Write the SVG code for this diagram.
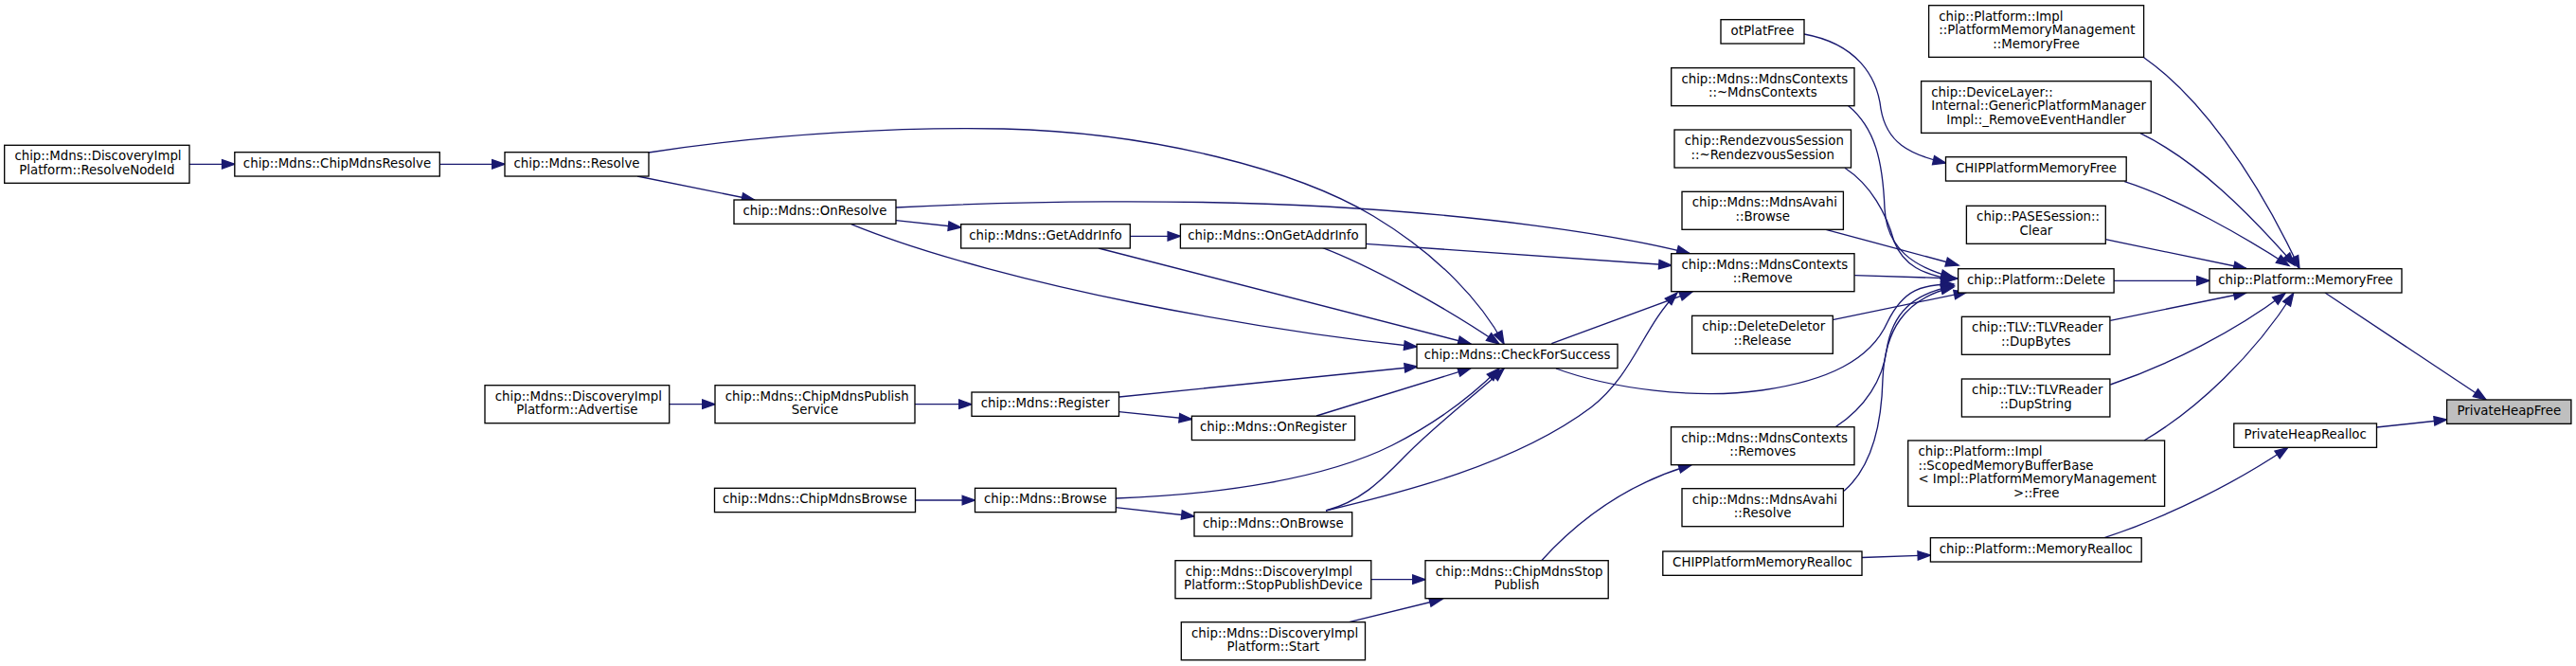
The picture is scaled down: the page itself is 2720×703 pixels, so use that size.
<svg xmlns="http://www.w3.org/2000/svg" width="2720" height="703" viewBox="0 0 2720 703">
<style>
.node rect{fill:#ffffff;stroke:#000000;stroke-width:1.33}
.node.target rect{fill:#bfbfbf}
text{font-family:"DejaVu Sans","Liberation Sans",sans-serif;font-size:13.33px;fill:#000000}
.l{text-anchor:start}
.c{text-anchor:middle}
.e{fill:none;stroke:#191970;stroke-width:1.33;marker-end:url(#ah)}
</style>
<defs>
<marker id="ah" markerUnits="userSpaceOnUse" markerWidth="16" markerHeight="12" refX="13.3" refY="0" orient="auto" overflow="visible">
<path d="M0,-4.7 L13.3,0 L0,4.7 Z" fill="#191970" stroke="#191970" stroke-width="1.33"/>
</marker>
</defs>
<rect x="0" y="0" width="2720" height="703" fill="#ffffff"/>
<g id="edges">
<path class="e" d="M200,173.3 L247.8,173.3"/>
<path class="e" d="M464.3,173.3 L533,173.3"/>
<path class="e" d="M673,186 L796.7,211"/>
<path class="e" d="M685,161 C820,140 960,134 1060,136 C1220,140 1370,180 1450,228 C1520,270 1565,320 1588,363"/>
<path class="e" d="M946,232.7 L1014.7,240"/>
<path class="e" d="M946,219 C1080,212 1250,210 1400,218 C1560,227 1700,246 1784,267.5"/>
<path class="e" d="M898.7,236.7 C980,270 1100,300 1200,320 C1320,344 1420,358 1496,366"/>
<path class="e" d="M1193.3,249.3 L1246.4,249.3"/>
<path class="e" d="M1160,262 L1553,363"/>
<path class="e" d="M1441.7,257.3 L1765,280"/>
<path class="e" d="M1396.7,261.7 C1440,278 1520,320 1583,363"/>
<path class="e" d="M706.7,426.7 L755,426.7"/>
<path class="e" d="M966,426.7 L1026,426.7"/>
<path class="e" d="M1181.5,434.7 L1258.5,442.5"/>
<path class="e" d="M1181.7,419 L1496.5,387"/>
<path class="e" d="M1390,439 L1553,388.7"/>
<path class="e" d="M966.5,528 L1029.5,528"/>
<path class="e" d="M1178,535.7 L1261,545"/>
<path class="e" d="M1178.3,526 C1290,522 1400,505 1470,470 C1525,442 1560,412 1583,389"/>
<path class="e" d="M1400,539 C1440,528 1460,505 1485,480 C1520,445 1560,415 1588,389"/>
<path class="e" d="M1400,539 C1480,520 1600,490 1680,430 C1725,395 1735,345 1771,309"/>
<path class="e" d="M1638.3,362.7 L1787,308"/>
<path class="e" d="M1643,389 C1700,410 1790,422 1860,412 C1930,402 1975,380 1993,340 C2010,305 2030,300 2063,300"/>
<path class="e" d="M1447.8,611.7 L1505,611.7"/>
<path class="e" d="M1424.5,656.7 L1522.8,632.5"/>
<path class="e" d="M1627.7,591.7 C1670,545 1720,510 1786,490.7"/>
<path class="e" d="M1905,36 C1960,46 1982,80 1986,115 C1992,150 2015,163 2054.5,172"/>
<path class="e" d="M1951.7,111.7 C1980,135 1988,170 1990,220 C1992,262 2020,282 2063,293"/>
<path class="e" d="M1948,177.3 C1975,195 1992,225 2000,255 C2010,280 2030,290 2063,295"/>
<path class="e" d="M1928,242.3 L2068,280"/>
<path class="e" d="M1958.3,290.7 L2067,294"/>
<path class="e" d="M1935,337.7 L2076.7,308.3"/>
<path class="e" d="M1938,450.7 C1970,430 1988,400 1992,370 C1998,330 2020,310 2063,301.7"/>
<path class="e" d="M1947,518.3 C1980,490 1987,440 1988,400 C1990,350 2010,315 2063,303"/>
<path class="e" d="M1966,588.5 L2038.4,586"/>
<path class="e" d="M2263.7,60.7 C2320,100 2380,180 2428,283.5"/>
<path class="e" d="M2260,140.7 C2320,170 2375,225 2423,280"/>
<path class="e" d="M2243.3,191.7 C2300,210 2370,250 2417,280.5"/>
<path class="e" d="M2223.3,252.7 L2372,283.5"/>
<path class="e" d="M2232,296.3 L2333,296.3"/>
<path class="e" d="M2228.3,338.3 L2372,309"/>
<path class="e" d="M2228.3,406 C2290,385 2360,350 2413,309.5"/>
<path class="e" d="M2264,465 C2320,432 2380,375 2421.7,309.5"/>
<path class="e" d="M2222,567.7 C2290,545 2360,510 2415.6,472.5"/>
<path class="e" d="M2455,309 L2625,422"/>
<path class="e" d="M2509.5,451 L2583.6,443"/>
</g>
<g id="n_resolvenodeid" class="node"><rect x="4.7" y="153.3" width="195.3" height="40"/><text class="l" x="15.4" y="169.3">chip::Mdns::DiscoveryImpl</text><text class="c" x="102.3" y="184">Platform::ResolveNodeId</text></g>
<g id="n_chipmdnsresolve" class="node"><rect x="247.8" y="160.7" width="216.5" height="25.33"/><text class="c" x="356" y="176.7">chip::Mdns::ChipMdnsResolve</text></g>
<g id="n_resolve" class="node"><rect x="533" y="160.7" width="152" height="25.33"/><text class="c" x="609" y="176.7">chip::Mdns::Resolve</text></g>
<g id="n_onresolve" class="node"><rect x="775" y="211" width="171" height="25.33"/><text class="c" x="860.5" y="227">chip::Mdns::OnResolve</text></g>
<g id="n_getaddrinfo" class="node"><rect x="1014.7" y="236.7" width="178.6" height="25.33"/><text class="c" x="1104" y="252.7">chip::Mdns::GetAddrInfo</text></g>
<g id="n_ongetaddrinfo" class="node"><rect x="1246.4" y="236.7" width="196" height="25.33"/><text class="c" x="1344.4" y="252.7">chip::Mdns::OnGetAddrInfo</text></g>
<g id="n_advertise" class="node"><rect x="512" y="406.7" width="194.7" height="40"/><text class="l" x="522.7" y="422.7">chip::Mdns::DiscoveryImpl</text><text class="c" x="609.3" y="437.3">Platform::Advertise</text></g>
<g id="n_publishservice" class="node"><rect x="755" y="406.7" width="211" height="40"/><text class="l" x="765.7" y="422.7">chip::Mdns::ChipMdnsPublish</text><text class="c" x="860.5" y="437.3">Service</text></g>
<g id="n_register" class="node"><rect x="1026" y="414" width="155.5" height="25.33"/><text class="c" x="1103.7" y="430">chip::Mdns::Register</text></g>
<g id="n_onregister" class="node"><rect x="1258.4" y="439.2" width="172.2" height="25.33"/><text class="c" x="1344.5" y="455.2">chip::Mdns::OnRegister</text></g>
<g id="n_chipmdnsbrowse" class="node"><rect x="754.5" y="515.3" width="212" height="25.33"/><text class="c" x="860.5" y="531.3">chip::Mdns::ChipMdnsBrowse</text></g>
<g id="n_browse" class="node"><rect x="1029.5" y="515.3" width="148.8" height="25.33"/><text class="c" x="1103.9" y="531.3">chip::Mdns::Browse</text></g>
<g id="n_onbrowse" class="node"><rect x="1261" y="540.7" width="166.7" height="25.33"/><text class="c" x="1344.3" y="556.7">chip::Mdns::OnBrowse</text></g>
<g id="n_checkforsuccess" class="node"><rect x="1496" y="363.3" width="212" height="25.33"/><text class="c" x="1602" y="379.3">chip::Mdns::CheckForSuccess</text></g>
<g id="n_stoppublishdevice" class="node"><rect x="1241" y="591.7" width="206.8" height="40"/><text class="l" x="1251.7" y="607.7">chip::Mdns::DiscoveryImpl</text><text class="c" x="1344.4" y="622.3">Platform::StopPublishDevice</text></g>
<g id="n_start" class="node"><rect x="1247.3" y="656.7" width="194.2" height="40"/><text class="l" x="1258" y="672.7">chip::Mdns::DiscoveryImpl</text><text class="c" x="1344.4" y="687.3">Platform::Start</text></g>
<g id="n_chipmdnsstoppublish" class="node"><rect x="1505" y="591.7" width="193.2" height="40"/><text class="l" x="1515.7" y="607.7">chip::Mdns::ChipMdnsStop</text><text class="c" x="1601.6" y="622.3">Publish</text></g>
<g id="n_otplatfree" class="node"><rect x="1817" y="20.7" width="88" height="25.33"/><text class="c" x="1861" y="36.7">otPlatFree</text></g>
<g id="n_mdnscontexts_dtor" class="node"><rect x="1764.7" y="71.7" width="193.3" height="40"/><text class="l" x="1775.4" y="87.7">chip::Mdns::MdnsContexts</text><text class="c" x="1861.3" y="102.3">::~MdnsContexts</text></g>
<g id="n_rendezvous_dtor" class="node"><rect x="1768" y="137" width="186.5" height="40"/><text class="l" x="1778.7" y="153">chip::RendezvousSession</text><text class="c" x="1861.2" y="167.7">::~RendezvousSession</text></g>
<g id="n_avahi_browse" class="node"><rect x="1776" y="202.3" width="170.4" height="40"/><text class="l" x="1786.7" y="218.3">chip::Mdns::MdnsAvahi</text><text class="c" x="1861.2" y="233">::Browse</text></g>
<g id="n_contexts_remove" class="node"><rect x="1764.7" y="267.7" width="193.3" height="40"/><text class="l" x="1775.4" y="283.7">chip::Mdns::MdnsContexts</text><text class="c" x="1861.3" y="298.3">::Remove</text></g>
<g id="n_deletedeletor_release" class="node"><rect x="1786.6" y="333.3" width="148.7" height="40"/><text class="l" x="1797.3" y="349.3">chip::DeleteDeletor</text><text class="c" x="1861" y="364">::Release</text></g>
<g id="n_contexts_removes" class="node"><rect x="1764.5" y="450.7" width="193.5" height="40"/><text class="l" x="1775.2" y="466.7">chip::Mdns::MdnsContexts</text><text class="c" x="1861.2" y="481.3">::Removes</text></g>
<g id="n_avahi_resolve" class="node"><rect x="1776" y="515.7" width="170.4" height="40"/><text class="l" x="1786.7" y="531.7">chip::Mdns::MdnsAvahi</text><text class="c" x="1861.2" y="546.3">::Resolve</text></g>
<g id="n_chipmemrealloc" class="node"><rect x="1755.8" y="582" width="210.2" height="25.33"/><text class="c" x="1860.9" y="598">CHIPPlatformMemoryRealloc</text></g>
<g id="n_pmm_memoryfree" class="node"><rect x="2036.6" y="5.7" width="227" height="54.67"/><text class="l" x="2047.3" y="21.7">chip::Platform::Impl</text><text class="l" x="2047.3" y="36.3">::PlatformMemoryManagement</text><text class="c" x="2150.1" y="51">::MemoryFree</text></g>
<g id="n_devicelayer" class="node"><rect x="2028.6" y="85.7" width="242.7" height="54.67"/><text class="l" x="2039.3" y="101.7">chip::DeviceLayer::</text><text class="l" x="2039.3" y="116.3">Internal::GenericPlatformManager</text><text class="c" x="2150" y="131">Impl::_RemoveEventHandler</text></g>
<g id="n_chipmemfree" class="node"><rect x="2054.5" y="165.7" width="190.7" height="25.33"/><text class="c" x="2149.9" y="181.7">CHIPPlatformMemoryFree</text></g>
<g id="n_pase_clear" class="node"><rect x="2076.4" y="217.3" width="146.9" height="40"/><text class="l" x="2087.1" y="233.3">chip::PASESession::</text><text class="c" x="2149.9" y="248">Clear</text></g>
<g id="n_platform_delete" class="node"><rect x="2067.6" y="283.7" width="164.5" height="25.33"/><text class="c" x="2149.9" y="299.7">chip::Platform::Delete</text></g>
<g id="n_dupbytes" class="node"><rect x="2071.4" y="334.3" width="156.5" height="40"/><text class="l" x="2082.1" y="350.3">chip::TLV::TLVReader</text><text class="c" x="2149.7" y="365">::DupBytes</text></g>
<g id="n_dupstring" class="node"><rect x="2071.4" y="400" width="156.5" height="40"/><text class="l" x="2082.1" y="416">chip::TLV::TLVReader</text><text class="c" x="2149.7" y="430.7">::DupString</text></g>
<g id="n_scoped_free" class="node"><rect x="2014.7" y="465" width="270.9" height="69.33"/><text class="l" x="2025.4" y="481">chip::Platform::Impl</text><text class="l" x="2025.4" y="495.7">::ScopedMemoryBufferBase</text><text class="l" x="2025.4" y="510.3">&lt; Impl::PlatformMemoryManagement</text><text class="c" x="2150.2" y="525"> &gt;::Free</text></g>
<g id="n_memoryrealloc" class="node"><rect x="2038.4" y="567.7" width="222.8" height="25.33"/><text class="c" x="2149.8" y="583.7">chip::Platform::MemoryRealloc</text></g>
<g id="n_memoryfree" class="node"><rect x="2333" y="283.7" width="203" height="25.33"/><text class="c" x="2434.5" y="299.7">chip::Platform::MemoryFree</text></g>
<g id="n_privateheaprealloc" class="node"><rect x="2358.8" y="447" width="150.7" height="25.33"/><text class="c" x="2434.2" y="463">PrivateHeapRealloc</text></g>
<g id="n_privateheapfree" class="node target"><rect x="2583.6" y="422" width="131.3" height="25.33"/><text class="c" x="2649.3" y="438">PrivateHeapFree</text></g>
</svg>
